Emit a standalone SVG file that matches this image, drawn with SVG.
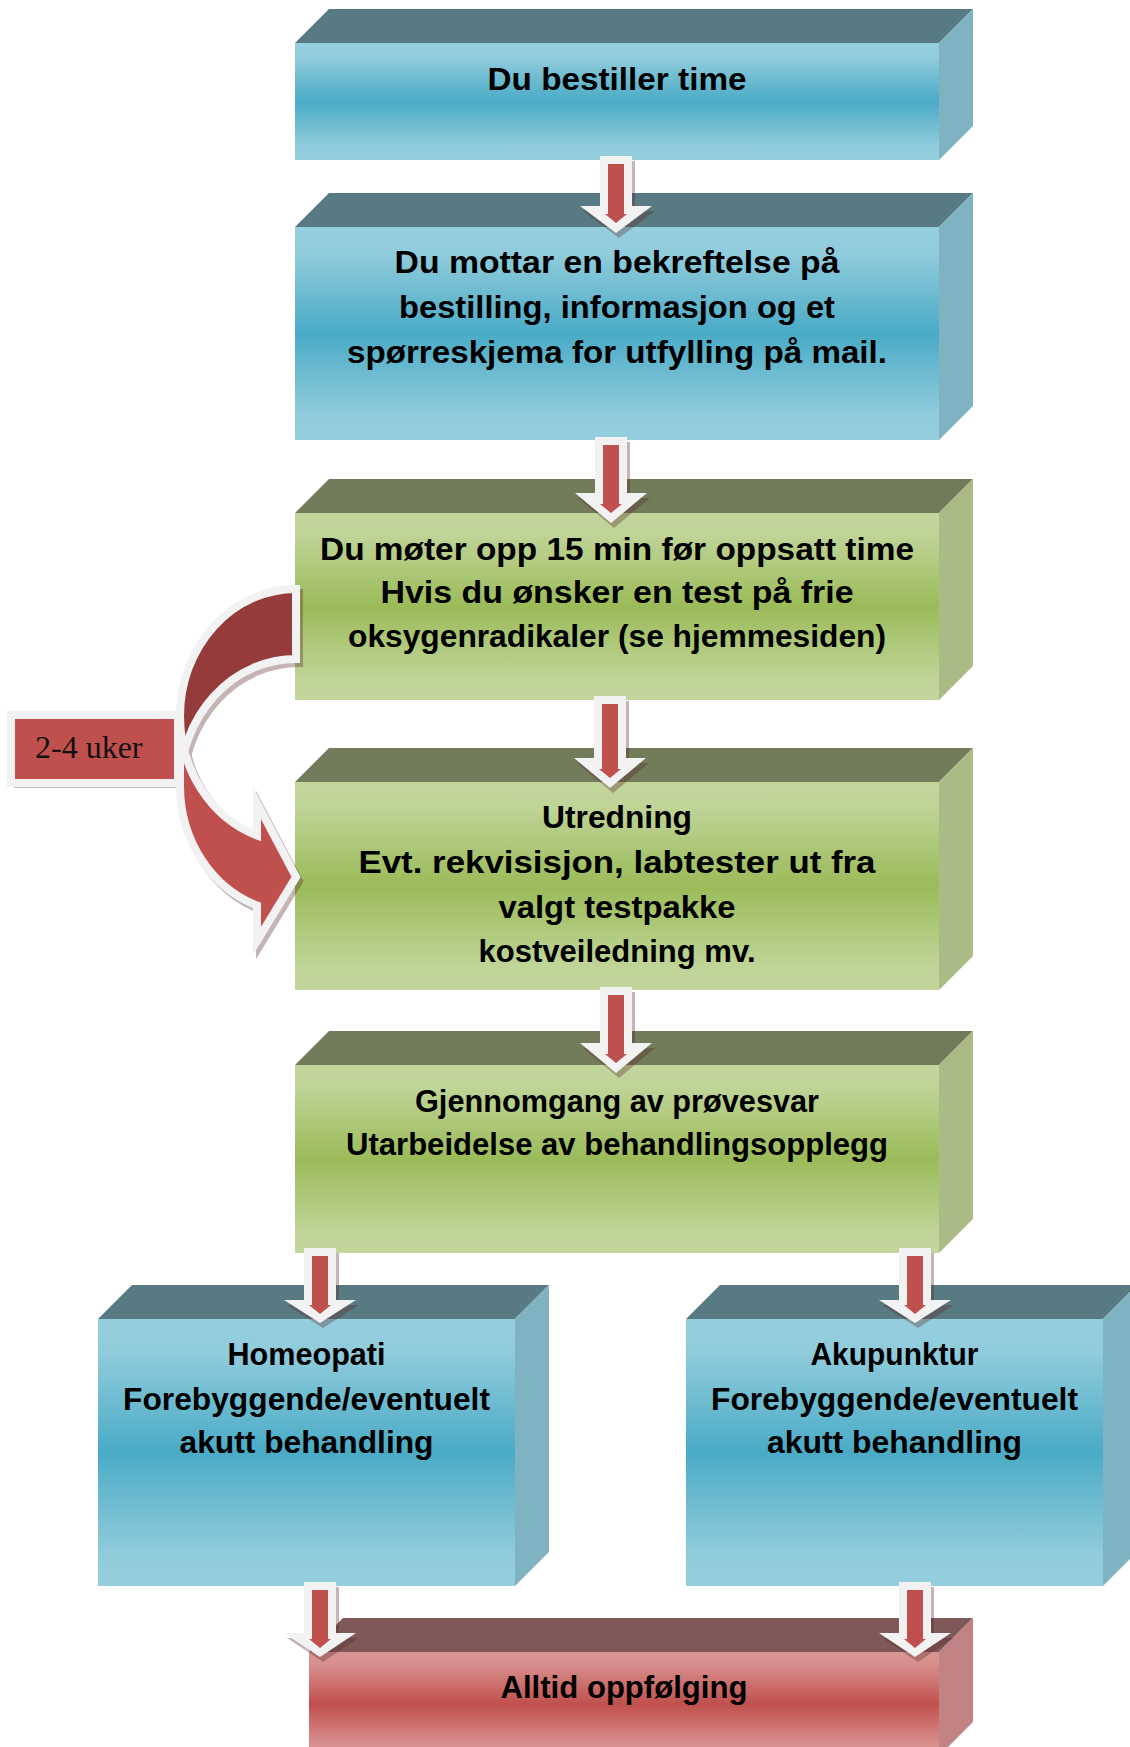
<svg xmlns="http://www.w3.org/2000/svg" width="1130" height="1747" viewBox="0 0 1130 1747">
<defs>
<linearGradient id="gBlue" x1="0" y1="0" x2="0" y2="1">
<stop offset="0" stop-color="#95cfdf"/><stop offset="0.12" stop-color="#91ccdc"/><stop offset="0.5" stop-color="#4aabc6"/><stop offset="0.88" stop-color="#91ccdc"/><stop offset="1" stop-color="#95cfdf"/>
</linearGradient>
<linearGradient id="gGreen" x1="0" y1="0" x2="0" y2="1">
<stop offset="0" stop-color="#c3d69c"/><stop offset="0.12" stop-color="#bfd497"/><stop offset="0.5" stop-color="#9bbb59"/><stop offset="0.88" stop-color="#bfd497"/><stop offset="1" stop-color="#c3d69c"/>
</linearGradient>
<linearGradient id="gRed" x1="0" y1="0" x2="0" y2="1">
<stop offset="0" stop-color="#d99694"/><stop offset="0.12" stop-color="#d78f8d"/><stop offset="0.5" stop-color="#c0504d"/><stop offset="0.88" stop-color="#d78f8d"/><stop offset="1" stop-color="#d99694"/>
</linearGradient>
</defs>
<style>
.tb{fill:#587a82}.rb{fill:#80b3c2}.fb{fill:url(#gBlue)}
.tg{fill:#727c5a}.rg{fill:#aabb86}.fg{fill:url(#gGreen)}
.tr{fill:#7f5858}.rr{fill:#c08282}.fr{fill:url(#gRed)}
.t{font-family:"Liberation Sans",Arial,sans-serif;font-weight:bold;font-size:32px;fill:#000;text-anchor:middle}
.lbl{font-family:"Liberation Serif","Times New Roman",serif;font-size:32px;fill:#111}
.aw{fill:#f2f2f2}.ar{fill:#c0504d}
.sh{fill:#5a2a2a;opacity:0.35}
.cv{stroke:#f2f2f2;stroke-width:8;stroke-linejoin:miter;stroke-miterlimit:10}
</style>

<g id="box1">
<polygon class="tb" points="295,43 329,9 973,9 939,43"/>
<polygon class="rb" points="939,43 973,9 973,126 939,160"/>
<rect class="fb" x="295" y="43" width="644" height="117"/>
<text class="t" x="617" y="90" textLength="259" lengthAdjust="spacingAndGlyphs">Du bestiller time</text>
</g>

<g id="box2">
<polygon class="tb" points="295,227 329,193 973,193 939,227"/>
<polygon class="rb" points="939,227 973,193 973,406 939,440"/>
<rect class="fb" x="295" y="227" width="644" height="213"/>
<text class="t" x="617" y="273" textLength="445" lengthAdjust="spacingAndGlyphs">Du mottar en bekreftelse på</text>
<text class="t" x="617" y="318" textLength="436" lengthAdjust="spacingAndGlyphs">bestilling, informasjon og et</text>
<text class="t" x="617" y="363" textLength="540" lengthAdjust="spacingAndGlyphs">spørreskjema for utfylling på mail.</text>
</g>

<g id="box3">
<polygon class="tg" points="295,513 329,479 973,479 939,513"/>
<polygon class="rg" points="939,513 973,479 973,666 939,700"/>
<rect class="fg" x="295" y="513" width="644" height="187"/>
<text class="t" x="617" y="560" textLength="594" lengthAdjust="spacingAndGlyphs">Du møter opp 15 min før oppsatt time</text>
<text class="t" x="617" y="603" textLength="473" lengthAdjust="spacingAndGlyphs">Hvis du ønsker en test på frie</text>
<text class="t" x="617" y="647" textLength="538" lengthAdjust="spacingAndGlyphs">oksygenradikaler (se hjemmesiden)</text>
</g>

<g id="box4">
<polygon class="tg" points="295,782 329,748 973,748 939,782"/>
<polygon class="rg" points="939,782 973,748 973,956 939,990"/>
<rect class="fg" x="295" y="782" width="644" height="208"/>
<text class="t" x="617" y="828" textLength="150" lengthAdjust="spacingAndGlyphs">Utredning</text>
<text class="t" x="617" y="873" textLength="517" lengthAdjust="spacingAndGlyphs">Evt. rekvisisjon, labtester ut fra</text>
<text class="t" x="617" y="918" textLength="237" lengthAdjust="spacingAndGlyphs">valgt testpakke</text>
<text class="t" x="617" y="962" textLength="277" lengthAdjust="spacingAndGlyphs">kostveiledning mv.</text>
</g>

<g id="box5">
<polygon class="tg" points="295,1065 329,1031 973,1031 939,1065"/>
<polygon class="rg" points="939,1065 973,1031 973,1219 939,1253"/>
<rect class="fg" x="295" y="1065" width="644" height="188"/>
<text class="t" x="617" y="1112" textLength="404" lengthAdjust="spacingAndGlyphs">Gjennomgang av prøvesvar</text>
<text class="t" x="617" y="1155" textLength="542" lengthAdjust="spacingAndGlyphs">Utarbeidelse av behandlingsopplegg</text>
</g>

<g id="box6">
<polygon class="tb" points="98,1319 132,1285 549,1285 515,1319"/>
<polygon class="rb" points="515,1319 549,1285 549,1552 515,1586"/>
<rect class="fb" x="98" y="1319" width="417" height="267"/>
<text class="t" x="306.5" y="1365" textLength="158" lengthAdjust="spacingAndGlyphs">Homeopati</text>
<text class="t" x="306.5" y="1410" textLength="367" lengthAdjust="spacingAndGlyphs">Forebyggende/eventuelt</text>
<text class="t" x="306.5" y="1453" textLength="254" lengthAdjust="spacingAndGlyphs">akutt behandling</text>
</g>

<g id="box7">
<polygon class="tb" points="686,1319 720,1285 1137,1285 1103,1319"/>
<polygon class="rb" points="1103,1319 1137,1285 1137,1552 1103,1586"/>
<rect class="fb" x="686" y="1319" width="417" height="267"/>
<text class="t" x="894.5" y="1365" textLength="168" lengthAdjust="spacingAndGlyphs">Akupunktur</text>
<text class="t" x="894.5" y="1410" textLength="367" lengthAdjust="spacingAndGlyphs">Forebyggende/eventuelt</text>
<text class="t" x="894.5" y="1453" textLength="255" lengthAdjust="spacingAndGlyphs">akutt behandling</text>
</g>

<g id="box8">
<polygon class="tr" points="309,1652 343,1618 973,1618 939,1652"/>
<polygon class="rr" points="939,1652 973,1618 973,1722 939,1756"/>
<rect class="fr" x="309" y="1652" width="630" height="104"/>
<text class="t" x="624" y="1698" textLength="247" lengthAdjust="spacingAndGlyphs">Alltid oppfølging</text>
</g>

<g id="label">
<rect class="sh" x="14" y="720" width="167" height="68"/>
<rect x="11" y="715" width="167" height="68" fill="#c0504d" stroke="#f2f2f2" stroke-width="8"/>
<text class="lbl" x="35" y="758">2-4 uker</text>
</g>

<g id="connectors">
<g id="curved-arrow">
<g class="sh" transform="translate(3,4)">
<path d="M296,589 A116 127 0 0 0 180,716 L180,786 A116 127 0 0 1 296,659 Z" stroke="#5a2a2a" stroke-width="8"/>
<path d="M180,716 A116 127 0 0 0 257,835.5 L257,803 L296,877 L257,941 L257,905.5 A116 127 0 0 1 180,786 Z" stroke="#5a2a2a" stroke-width="8" stroke-miterlimit="10"/>
</g>
<path class="cv" fill="#953b3b" d="M296,589 A116 127 0 0 0 180,716 L180,786 A116 127 0 0 1 296,659 Z"/>
<path class="cv" fill="#c0504d" d="M180,716 A116 127 0 0 0 257,835.5 L257,803 L296,877 L257,941 L257,905.5 A116 127 0 0 1 180,786 Z"/>
</g>
<g class="sh" transform="translate(3,5)">
<polygon points="600,156 632,156 632,206 652,206 616,233 580,206 600,206"/>
<polygon points="595,437 627,437 627,493 647,493 611,523 575,493 595,493"/>
<polygon points="594,696 626,696 626,758 646,758 610,788 574,758 594,758"/>
<polygon points="600,987 632,987 632,1043 652,1043 616,1073 580,1043 600,1043"/>
<polygon points="304,1248 336,1248 336,1300 356,1300 320,1323 284,1300 304,1300"/>
<polygon points="899,1248 931,1248 931,1300 951,1300 915,1323 879,1300 899,1300"/>
<polygon points="304,1582 336,1582 336,1633 356,1633 320,1657 284,1633 304,1633"/>
<polygon points="899,1582 931,1582 931,1633 951,1633 915,1657 879,1633 899,1633"/>
</g>
<g id="arrow1"><polygon class="aw" points="600,156 632,156 632,206 652,206 616,233 580,206 600,206"/><polygon class="ar" points="608,164 624,164 624,214 627,214 616,223 605,214 608,214"/></g>
<g id="arrow2"><polygon class="aw" points="595,437 627,437 627,493 647,493 611,523 575,493 595,493"/><polygon class="ar" points="603,445 619,445 619,504 622,504 611,513 600,504 603,504"/></g>
<g id="arrow3"><polygon class="aw" points="594,696 626,696 626,758 646,758 610,788 574,758 594,758"/><polygon class="ar" points="602,704 618,704 618,769 621,769 610,778 599,769 602,769"/></g>
<g id="arrow4"><polygon class="aw" points="600,987 632,987 632,1043 652,1043 616,1073 580,1043 600,1043"/><polygon class="ar" points="608,995 624,995 624,1054 627,1054 616,1063 605,1054 608,1054"/></g>
<g id="arrow5"><polygon class="aw" points="304,1248 336,1248 336,1300 356,1300 320,1323 284,1300 304,1300"/><polygon class="ar" points="312,1256 328,1256 328,1305 331,1305 320,1314 309,1305 312,1305"/></g>
<g id="arrow6"><polygon class="aw" points="899,1248 931,1248 931,1300 951,1300 915,1323 879,1300 899,1300"/><polygon class="ar" points="907,1256 923,1256 923,1305 926,1305 915,1314 904,1305 907,1305"/></g>
<g id="arrow7"><polygon class="aw" points="304,1582 336,1582 336,1633 356,1633 320,1657 284,1633 304,1633"/><polygon class="ar" points="312,1590 328,1590 328,1639 331,1639 320,1648 309,1639 312,1639"/></g>
<g id="arrow8"><polygon class="aw" points="899,1582 931,1582 931,1633 951,1633 915,1657 879,1633 899,1633"/><polygon class="ar" points="907,1590 923,1590 923,1639 926,1639 915,1648 904,1639 907,1639"/></g>
</g>
</svg>
